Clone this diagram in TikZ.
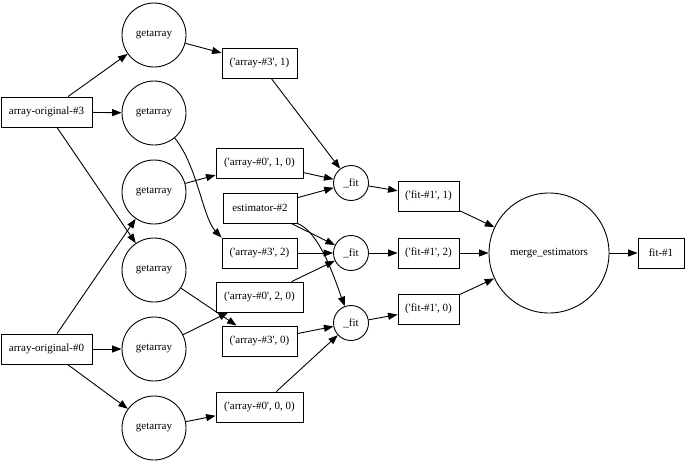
\documentclass[tikz,border=0pt]{standalone}
\usepackage{fontspec}
\setmainfont{Liberation Serif}
\usetikzlibrary{arrows.meta}
\newcommand{\q}{\textquotesingle}
\begin{document}
\begin{tikzpicture}[x=1pt,y=-1pt,
  every node/.style={font=\fontsize{11}{13}\selectfont, line width=0.9pt, inner sep=0pt},
  box/.style={draw, rectangle, minimum height=30pt, minimum width=#1},
  circ/.style={draw, circle, minimum size=#1},
  edge/.style={draw, line width=0.9pt, -{Triangle[length=9.5pt,width=7pt]}}]
\useasboundingbox (0,0) rectangle (685,461);
% sources
\node[box=91pt] (ao3) at (46.5,112) {array-original-\#3};
\node[box=91pt] (ao0) at (46.5,349) {array-original-\#0};
% getarray
\node[circ=64pt] (g1) at (154,35) {getarray};
\node[circ=64pt] (g2) at (154,113) {getarray};
\node[circ=64pt] (g3) at (154,192) {getarray};
\node[circ=64pt] (g4) at (154,270) {getarray};
\node[circ=64pt] (g5) at (154,349) {getarray};
\node[circ=64pt] (g6) at (154,428) {getarray};
% arrays
\node[box=75pt] (a31) at (259.5,63) {(\q array-\#3\q, 1)};
\node[box=87pt] (a010) at (259.5,163) {(\q array-\#0\q, 1, 0)};
\node[box=74pt] (est) at (260,208) {estimator-\#2};
\node[box=75pt] (a32) at (259.5,253) {(\q array-\#3\q, 2)};
\node[box=87pt] (a020) at (259.5,297) {(\q array-\#0\q, 2, 0)};
\node[box=75pt] (a30) at (259.5,341) {(\q array-\#3\q, 0)};
\node[box=87pt] (a000) at (259.5,407) {(\q array-\#0\q, 0, 0)};
% fits
\node[circ=35pt] (f1) at (351,183) {\_fit};
\node[circ=35pt] (f2) at (351,253) {\_fit};
\node[circ=35pt] (f3) at (351,323) {\_fit};
\node[box=61pt] (r1) at (428.5,196) {(\q fit-\#1\q, 1)};
\node[box=61pt] (r2) at (428.5,253) {(\q fit-\#1\q, 2)};
\node[box=61pt] (r0) at (428.5,309) {(\q fit-\#1\q, 0)};
\node[circ=120pt] (m) at (549,253) {merge\_estimators};
\node[box=46pt] (out) at (661,253) {fit-\#1};
% edges
\path[edge] (ao3) -- (g1);
\path[edge] (ao3) -- (g2);
\path[edge] (ao3) -- (g4);
\path[edge] (ao0) -- (g3);
\path[edge] (ao0) -- (g5);
\path[edge] (ao0) -- (g6);
\path[edge] (g1) -- (a31);
\path[edge] (g2) .. controls (197,165) and (203,218) .. (a32.north west);
\path[edge] (g3) -- (a010);
\path[edge] (g4) -- (a30);
\path[edge] (g5) -- (a020);
\path[edge] (g6) -- (a000);
\path[edge] (a31) -- (f1);
\path[edge] (a010) -- (f1);
\path[edge] (est) -- (f1);
\path[edge] (est) -- (f2);
\path[edge] (est.south east) .. controls (320,232) and (335,280) .. (f3);
\path[edge] (a32) -- (f2);
\path[edge] (a020) -- (f2);
\path[edge] (a30) -- (f3);
\path[edge] (a000) -- (f3);
\path[edge] (f1) -- (r1);
\path[edge] (f2) -- (r2);
\path[edge] (f3) -- (r0);
\path[edge] (r1) -- (m);
\path[edge] (r2) -- (m);
\path[edge] (r0) -- (m);
\path[edge] (m) -- (out);
\end{tikzpicture}
\end{document}
